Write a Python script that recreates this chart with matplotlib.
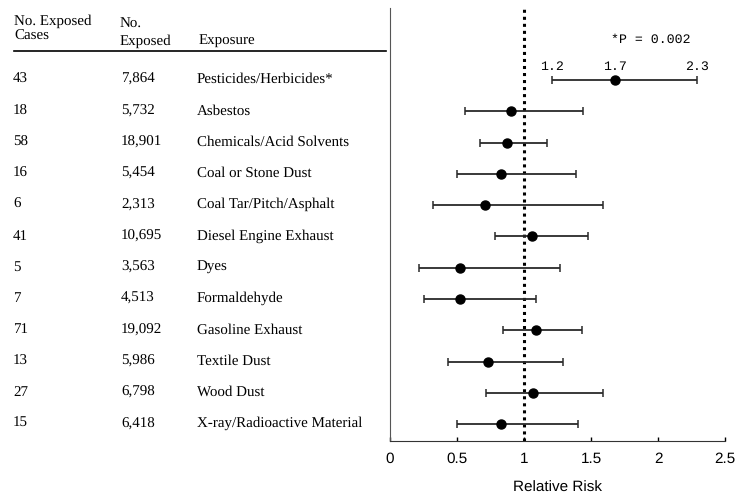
import matplotlib
matplotlib.use("Agg")
import matplotlib.pyplot as plt
import matplotlib.transforms as mtransforms
from matplotlib.lines import Line2D

plt.rcParams["text.hinting"] = "no_hinting"

# data
exposures = ["Pesticides/Herbicides*", "Asbestos", "Chemicals/Acid Solvents",
             "Coal or Stone Dust", "Coal Tar/Pitch/Asphalt", "Diesel Engine Exhaust",
             "Dyes", "Formaldehyde", "Gasoline Exhaust", "Textile Dust", "Wood Dust",
             "X-ray/Radioactive Material"]
cases = ["43", "18", "58", "16", "6", "41", "5", "7", "71", "13", "27", "15"]
n_exposed = ["7,864", "5,732", "18,901", "5,454", "2,313", "10,695", "3,563",
             "4,513", "19,092", "5,986", "6,798", "6,418"]
rr = [1.68, 0.90, 0.87, 0.83, 0.71, 1.06, 0.52, 0.52, 1.09, 0.73, 1.07, 0.83]
lower = [1.21, 0.56, 0.67, 0.50, 0.32, 0.78, 0.22, 0.25, 0.84, 0.43, 0.72, 0.50]
upper = [2.29, 1.44, 1.17, 1.39, 1.59, 1.48, 1.27, 1.09, 1.43, 1.29, 1.59, 1.40]
pest_labels = ["1.2", "1.7", "2.3"]
xticks = [0, 0.5, 1, 1.5, 2, 2.5]

serif = "Liberation Serif"
sans = "Liberation Sans"
mono = "Liberation Mono"
fs = 10.8

fig = plt.figure(figsize=(7.35, 4.95), dpi=100)
ax = fig.add_axes([390 / 735, 54 / 495, 335 / 735, 433 / 495])

rows = list(range(len(exposures)))
xerr = [[r - l for r, l in zip(rr, lower)], [u - r for u, r in zip(upper, rr)]]
ax.errorbar(rr, rows, xerr=xerr, fmt="o", color="black", ecolor="#2a2a2a",
            ms=6.5, elinewidth=1.3, capsize=3, capthick=1.1, zorder=3)
ax.axvline(1, color="black", ls=(0, (1, 1.3)), lw=2.2, zorder=2)

ax.set_xlim(0, 2.5)
ax.set_ylim(11.54, -2.30)
ax.set_xticks(xticks)
ax.set_xticklabels(["0", "0.5", "1", "1.5", "2", "2.5"], family=sans, fontsize=11)
ax.set_yticks([])
ax.tick_params(axis="x", direction="in", length=3, width=1, pad=8)
for s in ["top", "right"]:
    ax.spines[s].set_visible(False)
ax.spines["left"].set_color("#555555")
ax.spines["bottom"].set_color("#333333")
ax.set_xlabel("Relative Risk", family=sans, fontsize=11, labelpad=11)

# pesticide CI labels and p-value
for v, t in zip([lower[0], rr[0], upper[0]], pest_labels):
    ax.text(v, -0.42, t, family=mono, fontsize=9.5, ha="center", va="center")
ax.text(1.65, -1.3, "*P = 0.002", family=mono, fontsize=9.5, ha="left", va="center")

# table on the left, x in figure units, y in data units (baseline just below row)
tr = mtransforms.blended_transform_factory(fig.transFigure, ax.transData)
for i in rows:
    yb = i + 0.1
    ax.text(13 / 735, yb, cases[i], transform=tr, family=serif, fontsize=fs,
            ha="left", va="baseline", clip_on=False)
    ax.text(121 / 735, yb, n_exposed[i], transform=tr, family=serif, fontsize=fs,
            ha="left", va="baseline", clip_on=False)
    ax.text(197 / 735, yb, exposures[i], transform=tr, family=serif, fontsize=fs,
            ha="left", va="baseline", clip_on=False)

def fy(py):
    return 1 - py / 495

fig.text(14 / 735, fy(25), "No. Exposed", family=serif, fontsize=fs, va="baseline")
fig.text(14 / 735, fy(40), "Cases", family=serif, fontsize=fs, va="baseline")
fig.text(120 / 735, fy(28), "No.", family=serif, fontsize=fs, va="baseline")
fig.text(120 / 735, fy(45), "Exposed", family=serif, fontsize=fs, va="baseline")
fig.text(199 / 735, fy(45), "Exposure", family=serif, fontsize=fs, va="baseline")
fig.add_artist(Line2D([14 / 735, 386 / 735], [fy(51), fy(51)], color="black", lw=1.2))

fig.savefig("out.png", dpi=100)
